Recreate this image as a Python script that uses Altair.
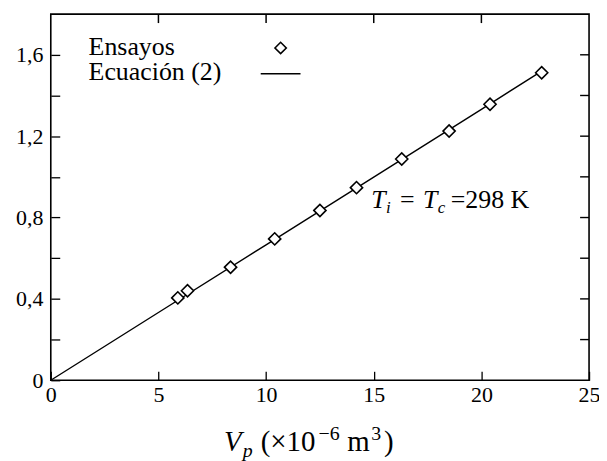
import altair as alt
import pandas as pd

FONT = "Liberation Serif"

# Data
ensayo_x = [5.9, 6.35, 8.35, 10.4, 12.5, 14.2, 16.3, 18.5, 20.4, 22.8]
ensayo_y = [0.405, 0.44, 0.556, 0.695, 0.835, 0.947, 1.088, 1.225, 1.357, 1.512]
ecuacion_x = [0, 5, 10, 15, 20, 22.8]
ecuacion_y = [0, 0.333, 0.666, 0.999, 1.332, 1.52]
x_ticks = [0, 5, 10, 15, 20, 25]
y_ticks = [0, 0.2, 0.4, 0.6, 0.8, 1.0, 1.2, 1.4, 1.6]
legend_labels = ["Ensayos", "Ecuación (2)"]

df_pts = pd.DataFrame({"x": ensayo_x, "y": ensayo_y})
df_line = pd.DataFrame({"x": ecuacion_x, "y": ecuacion_y})
df_xt = pd.DataFrame({"x": x_ticks[1:-1]})
df_yt = pd.DataFrame({"y": y_ticks[1:]})
one = pd.DataFrame({"t": [0]})

W, H = 541, 368
TICK = 9

xs = alt.Scale(domain=[0, 25], nice=False, zero=False)
ys = alt.Scale(domain=[0, 1.8], nice=False, zero=False)

y_label_expr = ("datum.value == 0 ? '0' : (round(datum.value*10) % 4 == 0 ? "
                "replace(format(datum.value, '.1f'), '.', ',') : '')")

common = dict(domain=False, grid=False, tickColor="black", tickWidth=1.3,
              tickSize=TICK, offset=-TICK, title=None)

x_axis = alt.Axis(values=x_ticks, orient="bottom", labelFont=FONT, labelFontSize=22,
                  labelColor="black", labelPadding=4, labelFlush=False,
                  labelOverlap=False, **common)
y_axis = alt.Axis(values=y_ticks, orient="left", labelFont=FONT, labelFontSize=22,
                  labelColor="black", labelPadding=8, labelOverlap=False,
                  labelExpr=y_label_expr, **common)

X = alt.X("x:Q", scale=xs, axis=x_axis)
Y = alt.Y("y:Q", scale=ys, axis=y_axis)

line = alt.Chart(df_line).mark_line(color="black", strokeWidth=1.4).encode(x=X, y=Y)
pts = alt.Chart(df_pts).mark_point(
    shape="diamond", filled=True, fill="white", stroke="black",
    strokeWidth=1.6, size=150, opacity=1
).encode(x=X, y=Y)

# inner ticks on the top and right frame edges
top_ticks = alt.Chart(df_xt).mark_rule(color="black", strokeWidth=1.5).encode(
    x=X, y=alt.YDatum(1.8), y2=alt.Y2Datum(1.756))
right_ticks = alt.Chart(df_yt).mark_rule(color="black", strokeWidth=1.4).encode(
    y=Y, x=alt.value(W - TICK), x2=alt.value(W))


def txt(s, x, y, size, italic=False):
    return alt.Chart(one).mark_text(
        text=s, font=FONT, fontSize=size, align="left", baseline="alphabetic",
        color="black", fontStyle="italic" if italic else "normal"
    ).encode(x=alt.value(x), y=alt.value(y))


# Legend
leg = [
    txt(legend_labels[0], 38, 41, 26),
    txt(legend_labels[1], 38, 66, 26),
    alt.Chart(one).mark_point(shape="diamond", filled=True, fill="white",
                              stroke="black", strokeWidth=1.6, size=130, opacity=1
                              ).encode(x=alt.value(231), y=alt.value(34)),
    alt.Chart(one).mark_rule(color="black", strokeWidth=1.4).encode(
        x=alt.value(211), x2=alt.value(251), y=alt.value(60)),
]

# Annotation  T_i = T_c=298 K
ann = [
    txt("T", 322, 195, 26, True),
    txt("i", 337, 200, 17, True),
    txt("=", 351, 195, 26),
    txt("T", 374, 195, 26, True),
    txt("c", 389, 200, 17, True),
    txt("=298 K", 402, 195, 26),
]

# Axis title  V_p (×10^-6 m^3)
ttl = [
    txt("V", 174, 439, 29, True),
    txt("p", 193, 445, 20, True),
    txt("(×10", 211, 439, 29),
    txt("−6", 269, 428, 20),
    txt("m", 298, 439, 29),
    txt("3", 322, 428, 20),
    txt(")", 335, 439, 29),
]

chart = alt.layer(line, top_ticks, pts, right_ticks, *leg, *ann, *ttl).properties(
    width=W, height=H,
    autosize=alt.AutoSizeParams(type="none"),
    padding={"left": 43, "top": 5, "right": 10, "bottom": 80},
).configure_view(stroke="black", strokeWidth=1.6)

chart.save("out.html", embed_options={"renderer": "svg", "actions": False})
